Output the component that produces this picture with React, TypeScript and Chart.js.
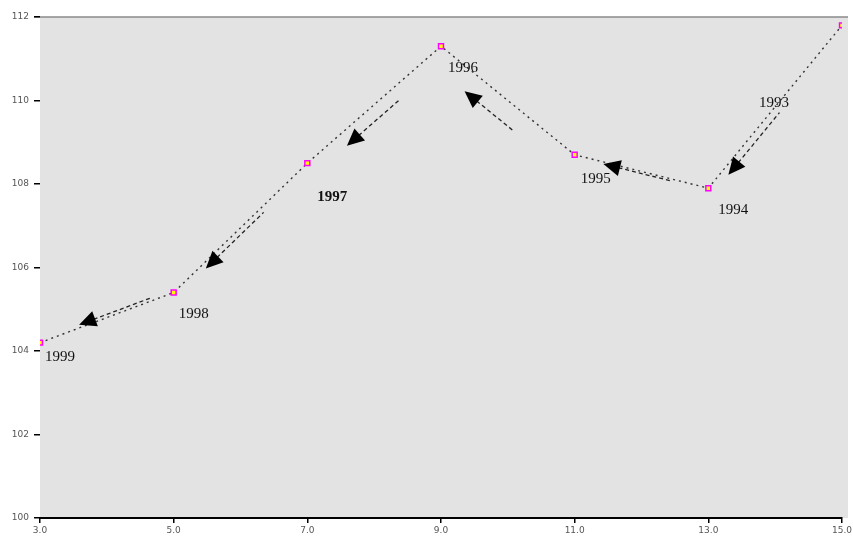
import React, { useEffect, useRef } from "react";
import { Chart, registerables } from "chart.js";

Chart.register(...registerables);

const years = ["1999", "1998", "1997", "1996", "1995", "1994", "1993"];
const xValues = [3, 5, 7, 9, 11, 13, 15];
const yValues = [104.2, 105.4, 108.5, 111.3, 108.7, 107.9, 111.8];
const xTickLabels = ["3.0", "5.0", "7.0", "9.0", "11.0", "13.0", "15.0"];
const yTickValues = [100, 102, 104, 106, 108, 110, 112];

// arrow annotation style per segment (fraction along segment, perpendicular offset px, tail length px)
const arrowStyle = [
  { t: 0.36, off: -3, len: 70 },
  { t: 0.26, off: 5, len: 72 },
  { t: 0.28, off: 13, len: 60 },
  { t: 0.32, off: 20, len: 55 },
  { t: 0.28, off: 2, len: 62 },
  { t: 0.15, off: 7, len: 72 },
];
// label offsets (px) per point
const labelOffsets = [
  { dx: 20, dy: 14 },
  { dx: 20, dy: 22 },
  { dx: 25, dy: 34 },
  { dx: 22, dy: 22 },
  { dx: 21, dy: 24 },
  { dx: 25, dy: 22 },
  { dx: -68, dy: 78 },
];

const bgPlugin = {
  id: "bgPlugin",
  beforeDraw(chart: any) {
    const { ctx, chartArea } = chart;
    ctx.save();
    ctx.fillStyle = "#e3e3e3";
    ctx.fillRect(chartArea.left, chartArea.top, chartArea.right - chartArea.left + 6, chartArea.bottom - chartArea.top);
    ctx.strokeStyle = "#8a8a8a";
    ctx.lineWidth = 1.5;
    ctx.beginPath();
    ctx.moveTo(chartArea.left - 6, chartArea.top);
    ctx.lineTo(chartArea.right + 6, chartArea.top);
    ctx.stroke();
    ctx.restore();
  },
};

const annotPlugin = {
  id: "annotPlugin",
  afterDatasetsDraw(chart: any) {
    const { ctx } = chart;
    const xs = chart.scales.x;
    const ys = chart.scales.y;
    const pts = xValues.map((v, i) => ({ x: xs.getPixelForValue(v), y: ys.getPixelForValue(yValues[i]) }));
    ctx.save();
    for (let i = 0; i < pts.length - 1; i++) {
      const A = pts[i];
      const B = pts[i + 1];
      const dx = B.x - A.x;
      const dy = B.y - A.y;
      const L = Math.hypot(dx, dy);
      const ux = dx / L;
      const uy = dy / L;
      const nx = -uy;
      const ny = ux;
      const st = arrowStyle[i];
      const hx = A.x + dx * st.t + nx * st.off;
      const hy = A.y + dy * st.t + ny * st.off;
      const tx = hx + ux * st.len;
      const ty = hy + uy * st.len;
      ctx.strokeStyle = "#222";
      ctx.lineWidth = 1.3;
      ctx.setLineDash([4, 3]);
      ctx.beginPath();
      ctx.moveTo(hx, hy);
      ctx.lineTo(tx, ty);
      ctx.stroke();
      ctx.setLineDash([]);
      const size = 17;
      const w = 8;
      const px = hx - ux * size * 0.5;
      const py = hy - uy * size * 0.5;
      const bx = hx + ux * size * 0.5;
      const by = hy + uy * size * 0.5;
      ctx.fillStyle = "#000";
      ctx.beginPath();
      ctx.moveTo(px, py);
      ctx.lineTo(bx + nx * w, by + ny * w);
      ctx.lineTo(bx - nx * w, by - ny * w);
      ctx.closePath();
      ctx.fill();
    }
    ctx.fillStyle = "#111";
    ctx.textAlign = "center";
    ctx.textBaseline = "middle";
    pts.forEach((p, i) => {
      ctx.font = (i === 2 ? "bold " : "") + "15px 'Liberation Serif', 'DejaVu Serif', serif";
      ctx.fillText(years[i], p.x + labelOffsets[i].dx, p.y + labelOffsets[i].dy);
    });
    ctx.restore();
  },
};

export default function App() {
  const ref = useRef<HTMLCanvasElement>(null);
  useEffect(() => {
    document.body.style.margin = "0";
    const canvas = ref.current!;
    const chart = new Chart(canvas, {
      type: "scatter",
      data: {
        datasets: [
          {
            data: xValues.map((x, i) => ({ x, y: yValues[i] })),
            showLine: true,
            borderColor: "#333",
            borderWidth: 1.4,
            borderDash: [2, 4],
            pointStyle: "rect",
            pointRadius: 3.5,
            pointBackgroundColor: "#ffff00",
            pointBorderColor: "#ff00ff",
            pointBorderWidth: 1.5,
          },
        ],
      },
      options: {
        animation: false,
        responsive: false,
        maintainAspectRatio: false,
        layout: { padding: { top: 17, right: 0, left: 0, bottom: 0 } },
        plugins: { legend: { display: false }, tooltip: { enabled: false } },
        scales: {
          x: {
            type: "linear",
            min: 3,
            max: 15,
            afterBuildTicks(scale: any) {
              scale.ticks = xValues.map((v) => ({ value: v }));
            },
            afterFit(scale: any) {
              scale.height = 26;
              scale.paddingRight = 11;
              scale.paddingLeft = 0;
            },
            ticks: {
              autoSkip: false,
              maxRotation: 0,
              padding: 2,
              color: "#555",
              font: { size: 9, family: "'DejaVu Sans', sans-serif" },
              callback: (_v: any, i: number) => xTickLabels[i],
            },
            grid: { drawOnChartArea: false, drawTicks: true, tickLength: 5, color: "#000", lineWidth: 1.5 },
            border: { display: true, color: "#000", width: 2 },
          },
          y: {
            min: 100,
            max: 112,
            afterBuildTicks(scale: any) {
              scale.ticks = yTickValues.map((v) => ({ value: v }));
            },
            afterFit(scale: any) {
              scale.width = 40;
            },
            ticks: {
              padding: 5,
              color: "#555",
              font: { size: 9, family: "'DejaVu Sans', sans-serif" },
              callback: (v: any) => String(v),
            },
            grid: { drawOnChartArea: false, drawTicks: true, tickLength: 6, color: "#000", lineWidth: 1.5 },
            border: { display: false },
          },
        },
      },
      plugins: [bgPlugin, annotPlugin],
    });
    return () => chart.destroy();
  }, []);
  return (
    <div style={{ width: 853, height: 544, background: "#fff" }}>
      <canvas ref={ref} width={853} height={544} style={{ display: "block" }} />
    </div>
  );
}
